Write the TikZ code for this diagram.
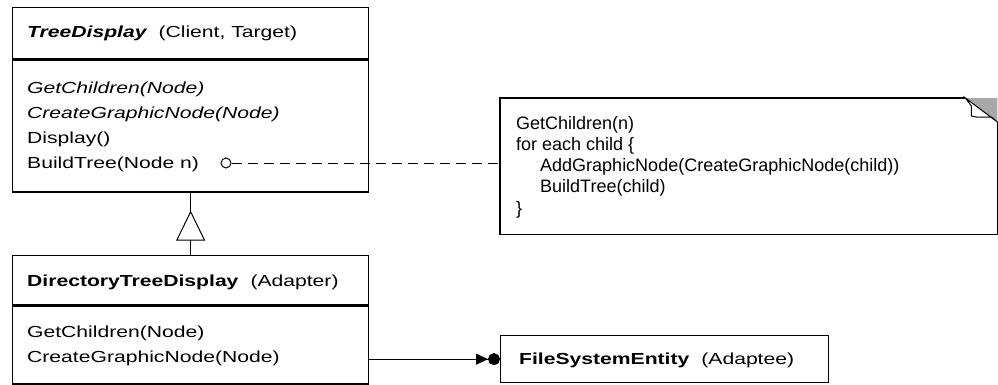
\documentclass[tikz,border=0pt]{standalone}
\usepackage{fontspec}
\setmainfont{Liberation Sans}
\newfontfamily\umlfont[FakeStretch=1.32]{Liberation Sans}
\definecolor{foldgrau}{HTML}{A8A8A8}
\usetikzlibrary{arrows.meta, calc}

\begin{document}
\begin{tikzpicture}[x=1pt, y=-1pt, >=Latex,
    box/.style={draw, line width=1.3pt, inner sep=0pt, anchor=north west, minimum width=356pt},
    txt/.style={inner sep=0pt, anchor=base west, font=\umlfont\fontsize{16pt}{18pt}\selectfont},
    notetxt/.style={inner sep=0pt, anchor=base west, font=\fontsize{18pt}{21pt}\selectfont}]
  \useasboundingbox (0,0) rectangle (998,384);
  % TreeDisplay (Client, Target)
  \node[box, minimum height=51pt] (td) at (12,7) {};
  \node[box, minimum height=132pt] (tdbody) at (td.south west) {};
  \node[txt] (tdname) at (27,37) {{\bfseries\itshape TreeDisplay}\hspace{12pt}(Client, Target)};
  \foreach \op [count=\i from 0] in {\textit{GetChildren(Node)}, \textit{CreateGraphicNode(Node)}, Display(), BuildTree(Node n)}
    \node[txt] (tdop\i) at (27, 93+25*\i) {\op};
  % DirectoryTreeDisplay (Adapter)
  \node[box, minimum height=49pt] (dtd) at (12,255) {};
  \node[box, minimum height=78pt] (dtdbody) at (dtd.south west) {};
  \node[txt] (dtdname) at (27,286) {{\bfseries DirectoryTreeDisplay}\hspace{12pt}(Adapter)};
  \foreach \op [count=\i from 0] in {GetChildren(Node), CreateGraphicNode(Node)}
    \node[txt] (dtdop\i) at (27, 337+25*\i) {\op};
  % FileSystemEntity (Adaptee)
  \node[box, minimum width=328pt, minimum height=47pt] (fse) at (500,335) {};
  \node[txt] (fsename) at (519,364) {{\bfseries FileSystemEntity}\hspace{12pt}(Adaptee)};
  % Note with folded corner
  \node[anchor=north west, inner sep=0pt, minimum width=497pt, minimum height=136pt] (note) at (500,98) {};
  \fill[foldgrau] ($(note.north east)+(-32,0)$) -- (note.north east) -- ($(note.north east)+(0,24)$) -- cycle;
  \draw[line width=1.3pt] ($(note.north east)+(-32,0)$) -- (note.north west) -- (note.south west)
    -- (note.south east) -- ($(note.north east)+(0,24)$);
  \draw[line width=1pt, fill=white] ($(note.north east)+(-32,0)$) -- ($(note.north east)+(-26,8)$)
    -- ($(note.north east)+(-26,18)$) -- ($(note.north east)+(-21,19)$) -- ($(note.north east)+(-6,19)$)
    -- ($(note.north east)+(0,24)$) -- cycle;
  \foreach \line/\dx [count=\i from 0] in {GetChildren(n)/0, for each child \{/0,
      AddGraphicNode(CreateGraphicNode(child))/24, BuildTree(child)/24, \}/0}
    \node[notetxt] (noteline\i) at (516+\dx, 129+21.3*\i) {\line};
  % Implementation note link
  \node[draw, circle, line width=1pt, minimum size=10pt, inner sep=0pt] (bt) at (226,163) {};
  \draw[line width=1pt, dash pattern=on 10pt off 6pt] (bt) -- (bt -| note.west);
  % Generalization
  \coordinate (apex) at ($(tdbody.south)+(0,18)$);
  \draw[line width=1pt, -{Triangle[open, length=30pt, width=29pt, fill=white]}] (dtd.north) -- (apex);
  \draw[line width=1pt] (apex) -- (tdbody.south);
  % Association to the adaptee
  \draw[line width=1pt, -{Triangle[length=12pt, width=11pt] Circle[length=12pt]}]
    (fse.west -| dtdbody.east) -- (fse.west);
\end{tikzpicture}
\end{document}
